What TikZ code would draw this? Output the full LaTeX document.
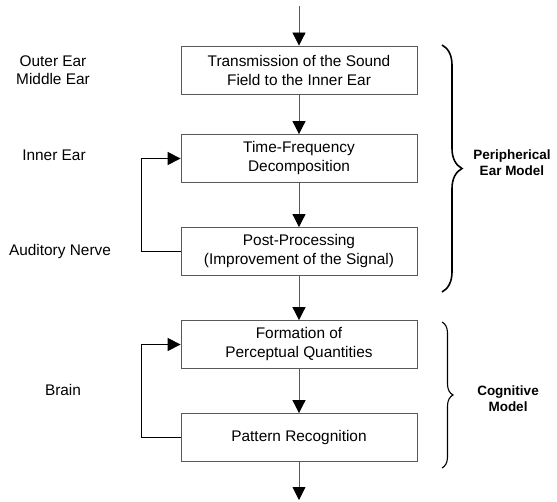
\documentclass[tikz,border=0pt]{standalone}
\usepackage{fontspec}
\setmainfont{Liberation Sans}
\usetikzlibrary{arrows.meta,decorations.pathreplacing}
\begin{document}
\begin{tikzpicture}[x=1pt,y=-1pt,
  box/.style={draw=black!65,line width=0.8pt,minimum width=236pt,minimum height=48pt,inner sep=0pt,align=center,font=\fontsize{15.4}{19}\selectfont},
  lbl/.style={align=center,font=\fontsize{15.4}{18}\selectfont,inner sep=0pt},
  blbl/.style={align=center,font=\fontsize{13.5}{16.5}\selectfont\bfseries,inner sep=0pt},
  arr/.style={draw=black!65,line width=0.8pt,-{Triangle[length=13pt,width=13pt,fill=black,color=black]}},
  fb/.style={draw=black,line width=1.1pt,-{Triangle[length=13pt,width=13pt]},rounded corners=0pt},
  fbline/.style={draw=black,line width=1.1pt},
  brc/.style={decorate,draw=black}]
\useasboundingbox (0,0) rectangle (557,502);
\node[box] (b1) at (299,70) {Transmission of the Sound\\Field to the Inner Ear};
\node[box] (b2) at (299,158.5) {Time-Frequency\\Decomposition};
\node[box] (b3) at (299,251.5) {Post-Processing\\(Improvement of the Signal)};
\node[box] (b4) at (299,344.5) {Formation of\\Perceptual Quantities};
\node[box] (b5) at (299,437.5) {Pattern Recognition};
\coordinate (in) at (299,6);
\coordinate (out) at (299,500);
\draw[arr] (in) -- (b1);
\draw[arr] (b1) -- (b2);
\draw[arr] (b2) -- (b3);
\draw[arr] (b3) -- (b4);
\draw[arr] (b4) -- (b5);
\draw[arr] (b5) -- (out);
\draw[fb] (b3.west) -- ++(-39,0) |- (b2.west);
\draw[fb] (b5.west) -- ++(-39,0) |- (b4.west);
\node[lbl] (l1) at (53,70) {Outer Ear\\Middle Ear};
\node[lbl] (l2) at (54,155) {Inner Ear};
\node[lbl] (l3) at (60,252) {Auditory Nerve};
\node[lbl] (l4) at (63,390) {Brain};
\coordinate (p1) at (442,45);
\coordinate (p2) at (442,292);
\coordinate (c1) at (442,322);
\coordinate (c2) at (442,468);
\draw[brc,line width=1.6pt,decoration={brace,amplitude=20pt}] (p1) -- (p2);
\draw[brc,line width=1.1pt,decoration={brace,amplitude=11pt}] (c1) -- (c2);
\node[blbl] (pm) at (512,162.5) {Peripherical\\Ear Model};
\node[blbl] (cm) at (508,398.5) {Cognitive\\Model};
\end{tikzpicture}
\end{document}
